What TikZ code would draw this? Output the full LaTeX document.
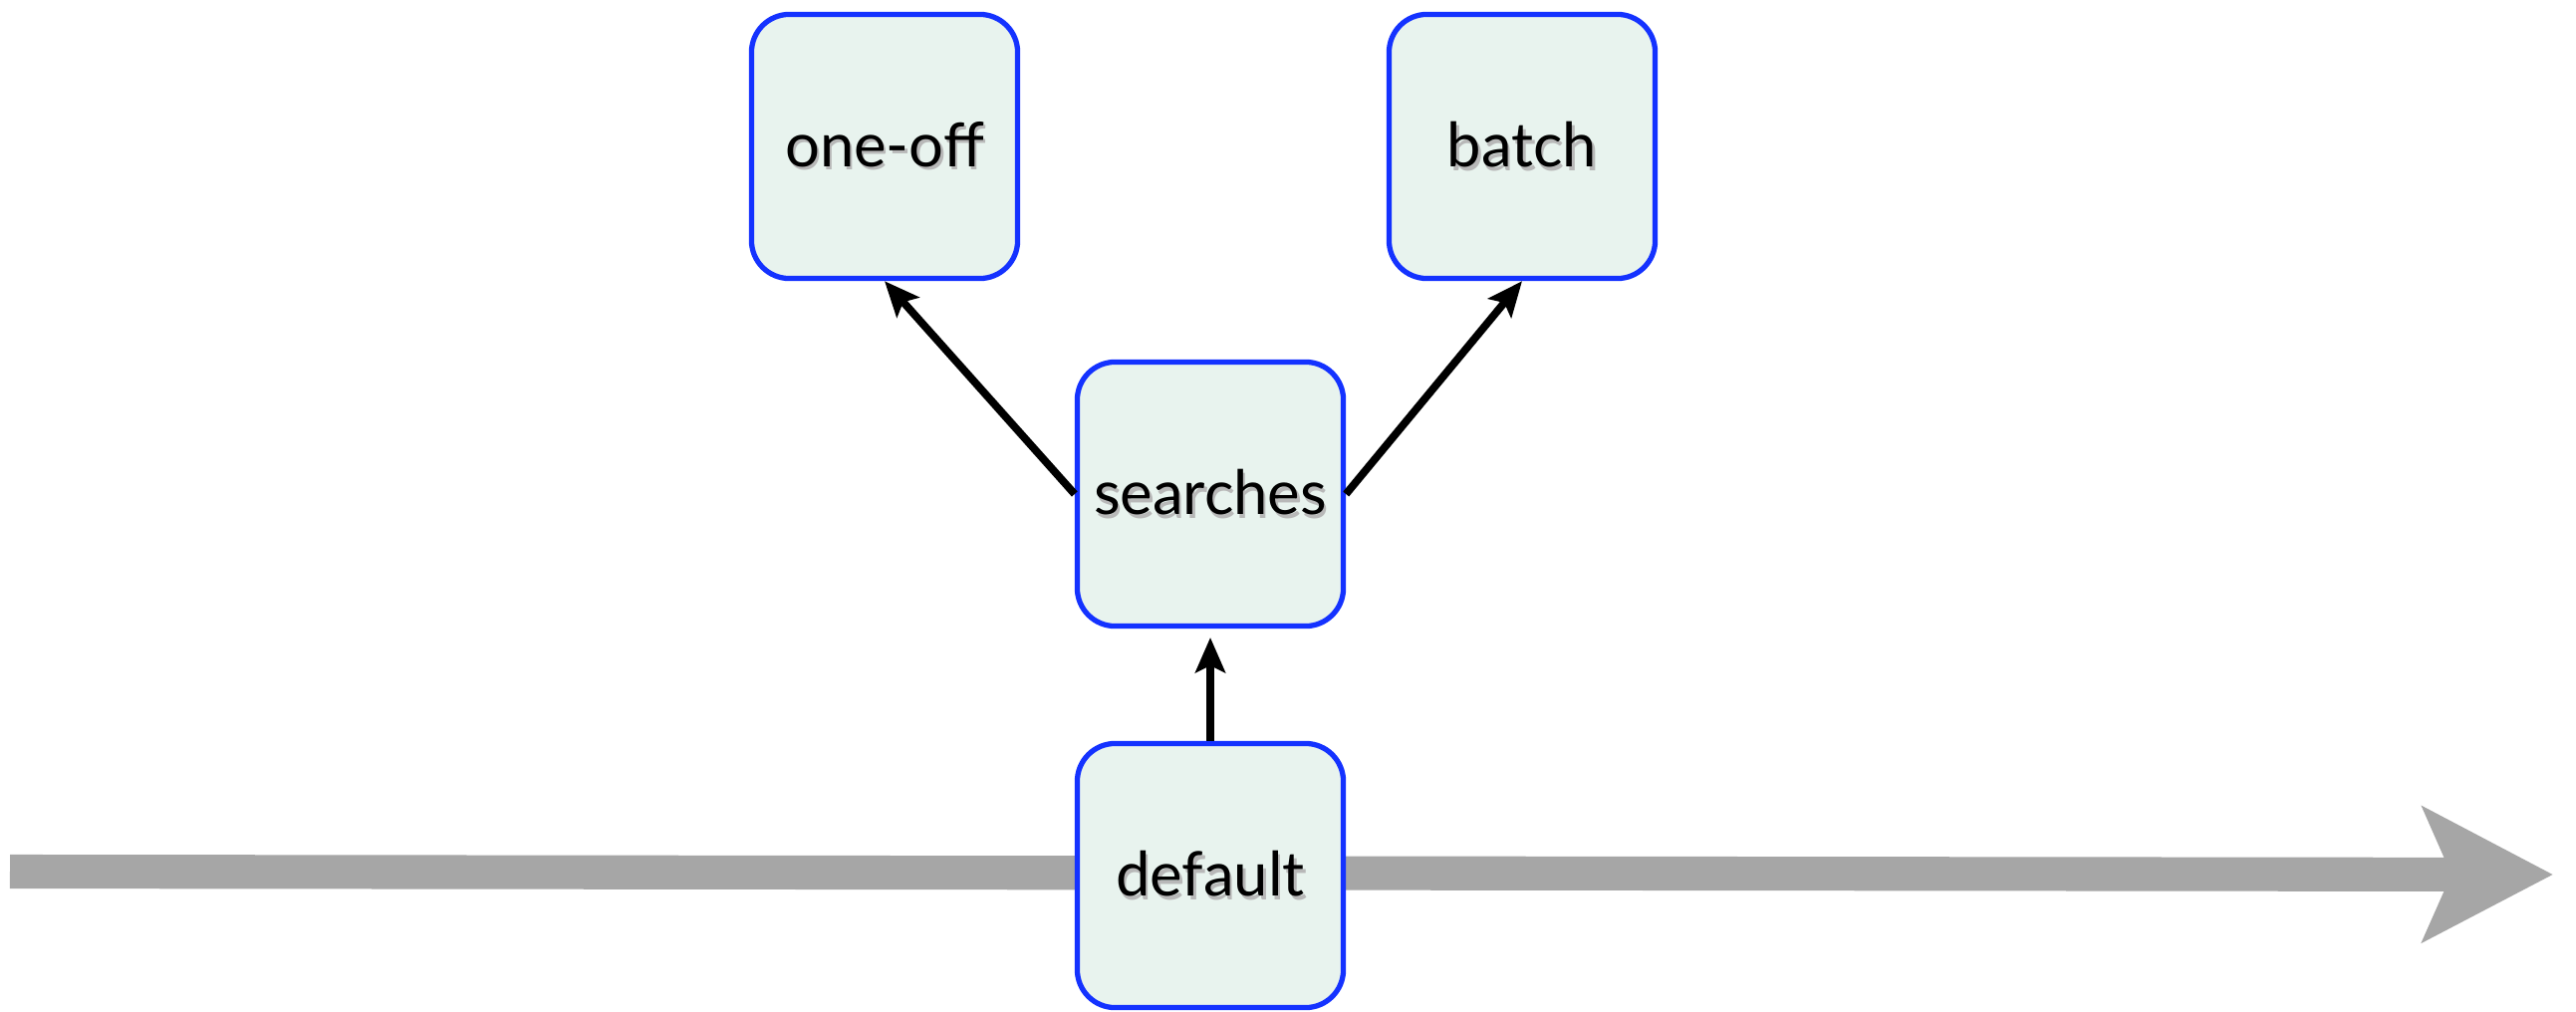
\documentclass[tikz,border=0pt]{standalone}
\usepackage{fontspec}
\setmainfont{Lato}
\usetikzlibrary{arrows.meta}
\definecolor{boxblue}{RGB}{20,50,255}
\definecolor{boxfill}{RGB}{232,243,238}
\definecolor{timegray}{RGB}{166,166,166}
\newcommand{\softshadow}[1]{\makebox[0pt][l]{\hspace{0.7pt}\raisebox{-0.9pt}{\textcolor{black!28}{#1}}}#1}
\begin{document}
\begin{tikzpicture}[x=0.01cm,y=-0.01cm,
        stage/.style={draw=boxblue,fill=boxfill,line width=1.5pt,rounded corners=0.38cm,
            minimum width=2.67cm,minimum height=2.65cm,font=\fontsize{17.5}{20}\selectfont},
        flow/.style={line width=2.2pt,-{Stealth[length=10pt,width=8.5pt,inset=2pt]}}]
        \useasboundingbox (0,0) rectangle (2586,1015);
        % time line behind the boxes
        \coordinate (tstart) at (10,875);
        \coordinate (tend) at (2563,878);
        \draw[timegray,line width=9.7pt,-{Stealth[length=37pt,width=38pt,inset=8pt]}] (tstart) -- (tend);
        \node[stage] (oneoff) at (888,147) {\softshadow{one-off}};
        \node[stage] (batch) at (1528,147) {\softshadow{batch}};
        \node[stage] (searches) at (1215,496) {\softshadow{searches}};
        \node[stage] (default) at (1215,879) {\softshadow{default}};
        \draw[flow] (searches.west) -- (oneoff.south);
        \draw[flow] (searches.east) -- (batch.south);
        \draw[flow,shorten >=2.5pt] (default.north) -- (searches.south);
    \end{tikzpicture}
\end{document}
